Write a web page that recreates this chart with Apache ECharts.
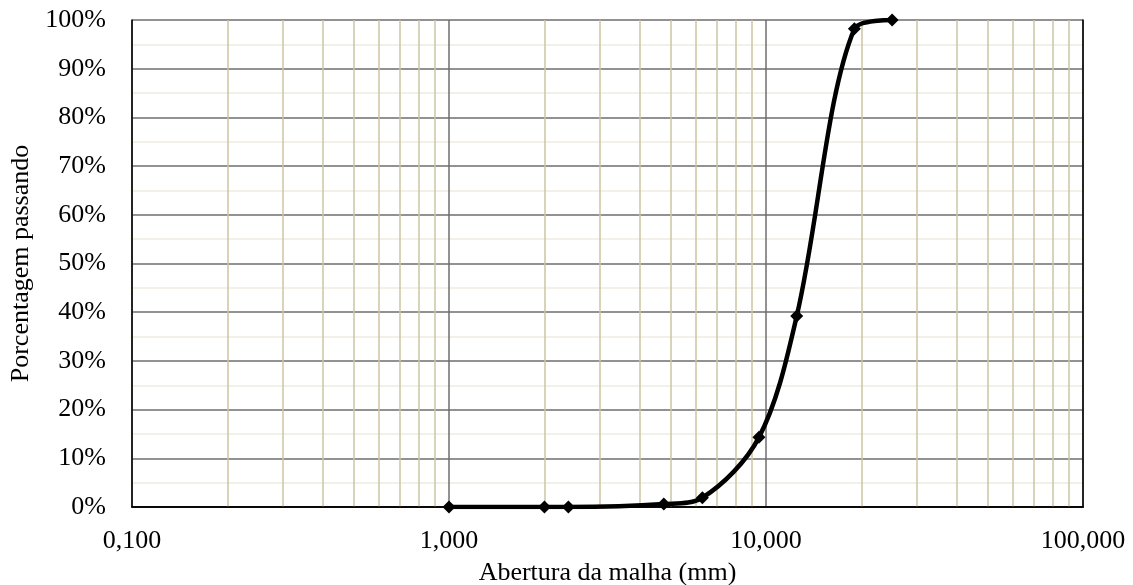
<!DOCTYPE html>
<html>
<head>
<meta charset="utf-8">
<script src="https://cdn.jsdelivr.net/npm/echarts@6/dist/echarts.min.js"></script>
<style>html,body{margin:0;padding:0;background:#fff}#c{width:1133px;height:585px}</style>
</head>
<body>
<div id="c"></div>
<script>
const sieveSizes = [1.0, 2.0, 2.38, 4.76, 6.3, 9.5, 12.5, 19.0, 25.0];
const passing = [0, 0, 0, 0.6, 1.9, 14.3, 39.2, 98.2, 100];
const minorXLines = [0.2,0.3,0.4,0.5,0.6,0.7,0.8,0.9, 2,3,4,5,6,7,8,9, 20,30,40,50,60,70,80,90];
const xAxisTitle = 'Abertura da malha (mm)';
const yAxisTitle = 'Porcentagem passando';

const font = 'Liberation Serif';
const fs = 26;
const borderAxis = {show: true, lineStyle: {color: '#000', width: 1.5}};
const chart = echarts.init(document.getElementById('c'));
chart.setOption({
  animation: false,
  grid: {left: 132, right: 50, top: 20, bottom: 78, outerBoundsMode: 'none', containLabel: false, show: false},
  xAxis: [{
    type: 'log', logBase: 10, min: 0.1, max: 100,
    name: xAxisTitle, nameLocation: 'middle', nameGap: 53,
    nameTextStyle: {fontFamily: font, fontSize: fs, color: '#000'},
    axisLine: borderAxis,
    axisTick: {show: false},
    axisLabel: {fontFamily: font, fontSize: fs, color: '#000', margin: 21,
      formatter: v => Number(v).toFixed(3).replace('.', ',')},
    splitLine: {show: true, lineStyle: {color: '#6e6e6e', width: 1.5}},
    minorTick: {show: false}, minorSplitLine: {show: false}
  }, {
    type: 'log', logBase: 10, min: 0.1, max: 100, position: 'top', z: 10,
    axisLine: borderAxis, axisTick: {show: false}, axisLabel: {show: false}, splitLine: {show: false}
  }],
  yAxis: [{
    type: 'value', min: 0, max: 100, interval: 10,
    name: yAxisTitle, nameLocation: 'middle', nameGap: 96,
    nameTextStyle: {fontFamily: font, fontSize: fs, color: '#000'},
    axisLine: borderAxis,
    axisTick: {show: false},
    axisLabel: {fontFamily: font, fontSize: fs, color: '#000', margin: 26, formatter: v => v + '%'},
    splitLine: {show: true, lineStyle: {color: '#6e6e6e', width: 1.5}},
    minorTick: {show: false, splitNumber: 2},
    minorSplitLine: {show: true, lineStyle: {color: '#eeebe0', width: 1.5}}
  }, {
    type: 'value', min: 0, max: 100, interval: 10, position: 'right', z: 10,
    axisLine: borderAxis, axisTick: {show: false}, axisLabel: {show: false}, splitLine: {show: false}
  }],
  series: [
    {
      type: 'line', data: [], silent: true, z: 1,
      markLine: {silent: true, symbol: 'none', label: {show: false},
        lineStyle: {color: '#cdc4a3', width: 1.5, type: 'solid'},
        data: minorXLines.map(v => ({xAxis: v}))}
    },
    {
      type: 'line', z: 5,
      data: sieveSizes.map((s, i) => [s, passing[i]]),
      smooth: 0.33,
      symbol: 'diamond', symbolSize: 13,
      itemStyle: {color: '#000'},
      lineStyle: {color: '#000', width: 4.5}
    }
  ]
});
</script>
</body>
</html>
